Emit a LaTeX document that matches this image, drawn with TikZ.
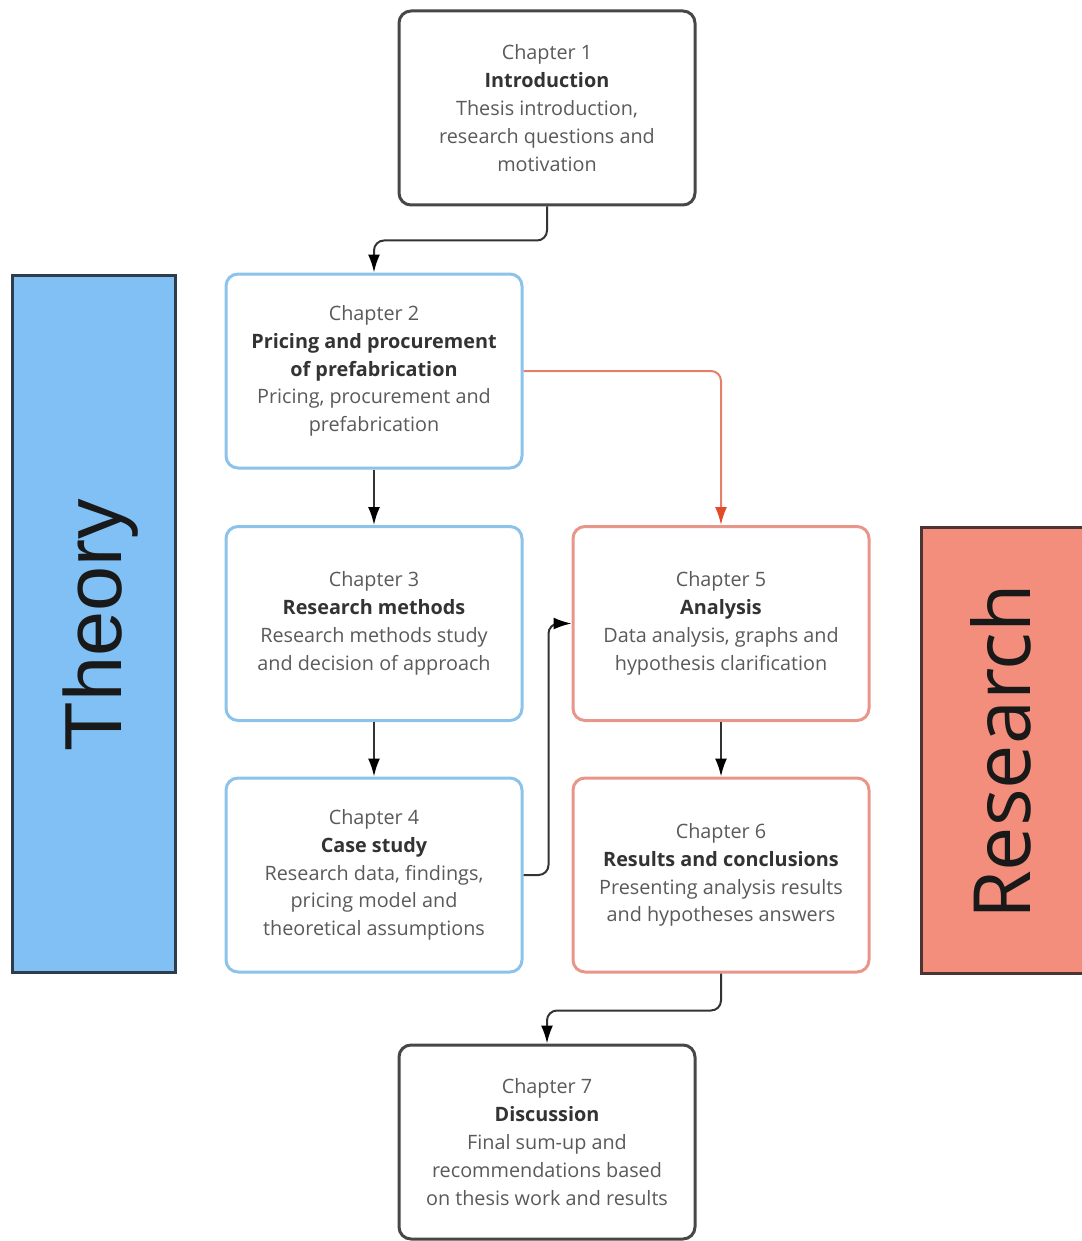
\documentclass[tikz,border=0pt]{standalone}
\usepackage{fontspec}
\setmainfont{Open Sans}
\newfontfamily\arialfont{Liberation Sans}
\usetikzlibrary{arrows.meta,calc}

\definecolor{boxgray}{HTML}{474747}
\definecolor{boxblue}{HTML}{8CC3EA}
\definecolor{boxred}{HTML}{E8968A}
\definecolor{txtgray}{HTML}{5A5A5A}
\definecolor{txtdark}{HTML}{333333}
\definecolor{theoryfill}{HTML}{80C0F5}
\definecolor{theoryline}{HTML}{2E3D4C}
\definecolor{researchfill}{HTML}{F48E7C}
\definecolor{researchline}{HTML}{4A3532}
\definecolor{linkred}{HTML}{E57F6C}
\definecolor{tipred}{HTML}{E24A2A}

\tikzset{
  chapter/.style={draw, line width=1.5pt, rounded corners=6pt, fill=white,
    minimum width=148pt, minimum height=97pt, align=center,
    font=\fontsize{9.9pt}{13.9pt}\selectfont, text=txtgray, inner sep=0pt},
  graybox/.style={chapter, draw=boxgray},
  bluebox/.style={chapter, draw=boxblue},
  redbox/.style={chapter, draw=boxred},
  link/.style={line width=1pt, draw=black!80, rounded corners=5pt,
    -{Latex[length=9pt,width=6pt,color=black]}},
  redlink/.style={line width=1pt, draw=linkred, rounded corners=5pt,
    -{Latex[length=9pt,width=6pt,color=tipred]}},
}
\newcommand{\hd}[1]{{\bfseries\color{txtdark}#1}}

\begin{document}
\begin{tikzpicture}[x=0.5pt, y=-0.5pt]
\useasboundingbox (0,0) rectangle (1081,1241);

% side bands
\draw[fill=theoryfill, draw=theoryline, line width=1.5pt] (12,275) rectangle (175,972);
\node[rotate=90, font=\arialfont\fontsize{40.5pt}{40.5pt}\selectfont, text=black!90] (theory) at (101,625) {Theory};
\draw[fill=researchfill, draw=researchline, line width=1.5pt] (921,527) rectangle (1090,973);
\node[rotate=90, font=\fontsize{39.5pt}{39.5pt}\selectfont, text=black!90] (research) at (1001,752) {Research};

% chapters
\node[graybox] (c1) at (547,108) {Chapter 1\\\hd{Introduction}\\Thesis introduction,\\research questions and\\motivation};
\node[bluebox] (c2) at (374,371) {Chapter 2\\\hd{Pricing and procurement}\\\hd{of prefabrication}\\Pricing, procurement and\\prefabrication};
\node[bluebox] (c3) at (374,623.5) {Chapter 3\\\hd{Research methods}\\Research methods study\\and decision of approach};
\node[bluebox] (c4) at (374,875) {Chapter 4\\\hd{Case study}\\Research data, findings,\\pricing model and\\theoretical assumptions};
\node[redbox] (c5) at (721,623.5) {Chapter 5\\\hd{Analysis}\\Data analysis, graphs and\\hypothesis clarification};
\node[redbox] (c6) at (721,875) {Chapter 6\\\hd{Results and conclusions}\\Presenting analysis results\\and hypotheses answers};
\node[graybox] (c7) at (547,1142) {Chapter 7\\\hd{Discussion}\\Final sum-up and\\recommendations based\\on thesis work and results};

% connectors
\draw[link] (c1.south) -- ++(0,34) -| (c2.north);
\draw[link] (c2.south) -- (c3.north);
\draw[link] (c3.south) -- (c4.north);
\draw[redlink] (c2.east) -| (c5.north);
\draw[link] (c4.east) -- ++(25,0) |- (c5.west);
\draw[link] (c5.south) -- (c6.north);
\draw[link] (c6.south) -- ++(0,37) -| (c7.north);
\end{tikzpicture}
\end{document}
